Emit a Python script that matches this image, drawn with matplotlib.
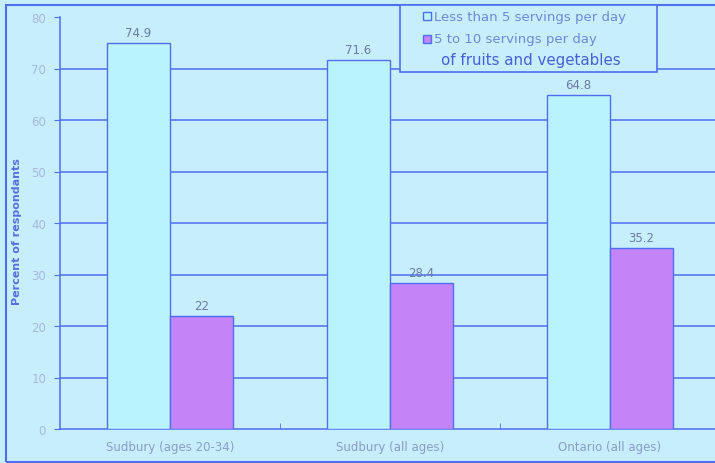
import matplotlib.pyplot as plt
import numpy as np
from matplotlib.patches import Rectangle

# datos
categorias = ["Sudbury (ages 20-34)", "Sudbury (all ages)", "Ontario (all ages)"]
menos_de_5 = [74.9, 71.6, 64.8]
de_5_a_10 = [22, 28.4, 35.2]
etiquetas_serie = ["Less than 5 servings per day", "5 to 10 servings per day",
                   "of fruits and vegetables"]

fondo = "#c6eefc"
azul = "#4f6ff0"
cian = "#b9f3fd"
morado = "#c384f7"
gris_texto = "#8a9cc8"

W, H = 715, 464
fig = plt.figure(figsize=(W / 100, H / 100), dpi=100, facecolor=fondo)
ax = fig.add_axes([60 / W, 34 / H, 660 / W, 412 / H], facecolor=fondo)

x = np.arange(len(categorias))
ancho = 0.286
b1 = ax.bar(x - ancho / 2, menos_de_5, ancho, color=cian, edgecolor=azul, linewidth=1, zorder=3)
b2 = ax.bar(x + ancho / 2, de_5_a_10, ancho, color=morado, edgecolor=azul, linewidth=1, zorder=3)

for barras, vals in [(b1, menos_de_5), (b2, de_5_a_10)]:
    for b, v in zip(barras, vals):
        ax.text(b.get_x() + b.get_width() / 2, v + 0.8, str(v), ha="center", va="bottom",
                fontsize=8.5, color="#6a7aa8", zorder=4)

ax.set_xlim(-0.5, 2.5)
ax.set_ylim(0, 80)
ax.set_yticks(range(0, 81, 10))
# lineas de rejilla sin la de 80
for yv in range(10, 80, 10):
    ax.axhline(yv, color=azul, linewidth=1.1, zorder=0)
ax.set_xticks(x)
ax.set_xticklabels(categorias, fontsize=8.5, color=gris_texto)
ax.set_xticks([0.5, 1.5], minor=True)
ax.tick_params(axis="x", which="major", length=0, pad=8)
ax.tick_params(axis="x", which="minor", length=4, color=azul, direction="in")
ax.tick_params(axis="y", length=4, color=azul, labelsize=8.5, labelcolor="#a8b8dc", pad=6)
for lado in ["top", "right"]:
    ax.spines[lado].set_visible(False)
ax.spines["left"].set_color(azul)
ax.spines["bottom"].set_color(azul)
ax.spines["left"].set_linewidth(1.1)
ax.spines["bottom"].set_linewidth(1.1)

fig.text(17 / W, 0.5, "Percent of respondants", rotation=90, ha="center", va="center",
         fontsize=8, fontweight="bold", color="#5570e0")

# marco exterior (el borde derecho queda fuera de la imagen)
fig.patches.append(Rectangle((6 / W, 1 / H), 1.2, 457 / H, transform=fig.transFigure,
                             fill=False, edgecolor=azul, linewidth=1.5))

# leyenda hecha a mano
def px(xp, yp):
    return xp / W, 1 - yp / H

fig.patches.append(Rectangle(px(400, 73), 257 / W, 67 / H, transform=fig.transFigure,
                             facecolor=fondo, edgecolor=azul, linewidth=1.2, zorder=5))
for color, yc in [(cian, 17), (morado, 40)]:
    fig.patches.append(Rectangle(px(423, yc + 4), 8 / W, 8 / H, transform=fig.transFigure,
                                 facecolor=color, edgecolor=azul, linewidth=1, zorder=6))
fig.text(*px(434, 17), etiquetas_serie[0], fontsize=9.5, color="#7088d8", va="center", zorder=6)
fig.text(*px(434, 40), etiquetas_serie[1], fontsize=9.5, color="#7088d8", va="center", zorder=6)
fig.text(*px(441, 60), etiquetas_serie[2], fontsize=10.8, color="#4560d8", va="center", zorder=6)

fig.savefig("out.png", dpi=100, facecolor=fondo)
